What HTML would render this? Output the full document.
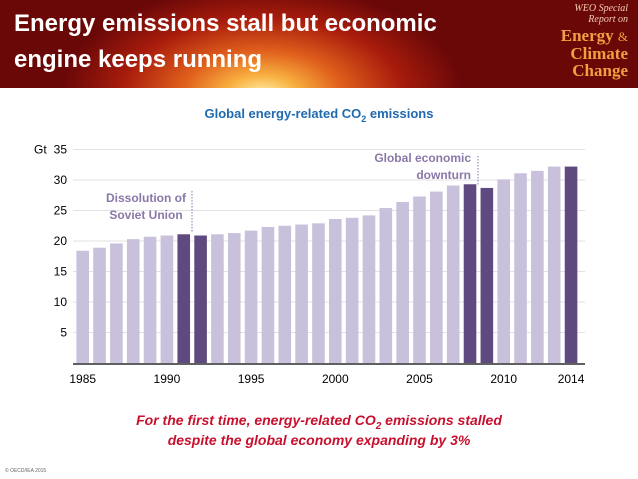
<!DOCTYPE html>
<html><head><meta charset="utf-8">
<style>
body{margin:0;width:638px;height:479px;background:#fff;font-family:"Liberation Sans",sans-serif;overflow:hidden;position:relative}
#hdr{position:absolute;left:0;top:0;width:638px;height:88px;background:radial-gradient(ellipse 200px 110px at 262px 95px,#fff3b0 0%,#f8b040 18%,#e0601c 40%,#a81c0c 70%,#6a0808 100%)}
.t{position:absolute;color:#fff;font-weight:bold;font-size:24px;left:14px}
.b{position:absolute;color:#f0a040;font-family:"Liberation Serif",serif;font-weight:bold;font-size:17px;right:10px;text-align:right;line-height:17px}
</style></head><body>
<div id="hdr">
<div class="t" style="top:10px">Energy emissions stall but economic</div>
<div class="t" style="top:46px">engine keeps running</div>
<div style="position:absolute;right:10px;top:3px;color:#f4d0b0;font-family:'Liberation Serif',serif;font-style:italic;font-size:10px;text-align:right;line-height:11px">WEO Special<br>Report on</div>
<div class="b" style="top:27px">Energy <span style="font-weight:normal;font-size:13px">&amp;</span><br>Climate<br>Change</div>
</div>
<svg id="c" width="638" height="479" style="position:absolute;left:0;top:0"></svg>
<script>
const years=[1985,1986,1987,1988,1989,1990,1991,1992,1993,1994,1995,1996,1997,1998,1999,2000,2001,2002,2003,2004,2005,2006,2007,2008,2009,2010,2011,2012,2013,2014];
const values=[18.4,18.9,19.6,20.3,20.7,20.9,21.1,20.9,21.1,21.3,21.7,22.3,22.5,22.7,22.9,23.6,23.8,24.2,25.4,26.4,27.3,28.1,29.1,29.3,28.7,30.1,31.1,31.5,32.2,32.2];
const highlighted=[1991,1992,2008,2009,2014];
const yTicks=[5,10,15,20,25,30,35];
const xTicks=[1985,1990,1995,2000,2005,2010,2014];
const svg=document.getElementById('c');const NS='http://www.w3.org/2000/svg';
function y(v){return 363-6.1*v;}
function x(yr){return 82.7+(yr-1985)*16.84;}
function mk(t,a,txt){const e=document.createElementNS(NS,t);for(const k in a)e.setAttribute(k,a[k]);if(txt!==undefined)e.textContent=txt;svg.appendChild(e);return e;}
yTicks.forEach(v=>{
 const g=mk('line',{x1:73,x2:585,y1:y(v),y2:y(v),stroke:'#e2e2e2','stroke-width':1});
 
 
 const t=mk('text',{x:67,y:y(v)+4,'text-anchor':'end','font-size':12,fill:'#000'},v);
 
 
});
const gt=mk('text',{x:34,y:y(35)+4,'font-size':12,fill:'#000'},'Gt');


years.forEach((yr,i)=>{
 const r=mk('rect',{x:x(yr)-6.3,y:y(values[i]),width:12.6,height:363-y(values[i]),fill:highlighted.includes(yr)?'#5e4a7e':'#c9c0dc'});
 
 
});
const ax=mk('line',{x1:73,x2:585,y1:364,y2:364,stroke:'#000','stroke-width':1.3});


xTicks.forEach(yr=>{
 const t=mk('text',{x:x(yr),y:383,'text-anchor':'middle','font-size':12,fill:'#000'},yr);
 
 
});
</script>
<svg width="638" height="479" style="position:absolute;left:0;top:0">
<text x="319" y="118" text-anchor="middle" font-size="13" font-weight="bold" fill="#1f6ab0">Global energy-related CO<tspan font-size="9" dy="4">2</tspan><tspan dy="-4"> emissions</tspan></text>
<text x="146" y="202" text-anchor="middle" font-size="12" font-weight="bold" fill="#8a78a8"><tspan x="146">Dissolution of</tspan><tspan x="146" dy="17">Soviet Union</tspan></text>
<line x1="192" y1="191" x2="192" y2="233" stroke="#8a78a8" stroke-dasharray="1.5,1.5"/>
<text x="471" y="162" text-anchor="end" font-size="12" font-weight="bold" fill="#8a78a8"><tspan x="471">Global economic</tspan><tspan x="471" dy="17">downturn</tspan></text>
<line x1="478" y1="156" x2="478" y2="186" stroke="#8a78a8" stroke-dasharray="1.5,1.5"/>
<text x="319" y="425" text-anchor="middle" font-size="14" font-weight="bold" font-style="italic" fill="#c8102e">For the first time, energy-related CO<tspan font-size="10" dy="4">2</tspan><tspan dy="-4"> emissions stalled</tspan></text>
<text x="319" y="445" text-anchor="middle" font-size="14" font-weight="bold" font-style="italic" fill="#c8102e">despite the global economy expanding by 3%</text>
<text x="5" y="472" font-size="5" fill="#666">© OECD/IEA 2015</text>
</svg>
</body></html>
